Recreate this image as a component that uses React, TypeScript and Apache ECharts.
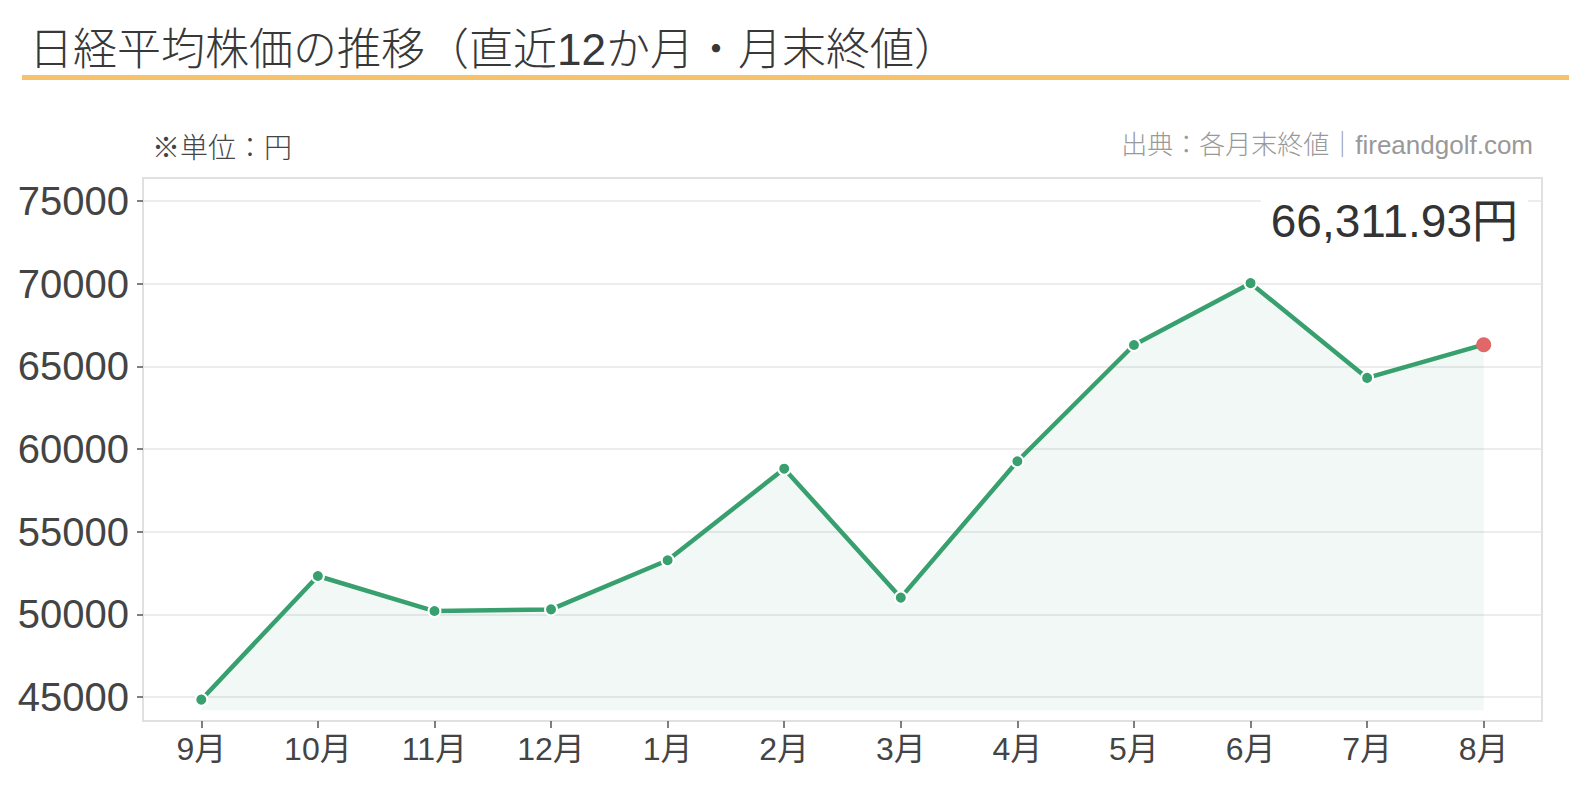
import * as echarts from "echarts";
import React, { useEffect, useRef } from "react";

// 日経平均 月末終値（直近12か月）
const months = ["9月", "10月", "11月", "12月", "1月", "2月", "3月", "4月", "5月", "6月", "7月", "8月"];
const closes = [44840, 52320, 50200, 50300, 53270, 58810, 51010, 59260, 66290, 70030, 64300, 66311.93];
const yTicks = [45000, 50000, 55000, 60000, 65000, 70000, 75000];

const FONT = '"Liberation Sans", "Noto Sans CJK JP", sans-serif';
const JP = '"Noto Sans CJK JP", sans-serif';
const GREEN = "#38a06e";
const RED = "#e06868";

const NikkeiChart: React.FC = () => {
    const chartRef = useRef<HTMLDivElement>(null);

    useEffect(() => {
        document.body.style.margin = "0";
        if (!chartRef.current) return;
        const chart = echarts.init(chartRef.current, undefined, { renderer: "svg" });

        const last = closes[closes.length - 1];
        const lastLabel =
            last.toLocaleString("ja-JP", { minimumFractionDigits: 2, maximumFractionDigits: 2 }) + "円";

        chart.setOption({
            animation: false,
            textStyle: { fontFamily: FONT },
            grid: { left: 143, right: 48, top: 178, bottom: 89, show: true, borderColor: "#e0e0e0", borderWidth: 2 },
            xAxis: {
                type: "category",
                data: months,
                boundaryGap: true,
                axisLine: { show: true, lineStyle: { color: "#e0e0e0", width: 2 } },
                axisTick: { show: true, alignWithLabel: true, length: 7, lineStyle: { color: "#555", width: 1.5 } },
                axisLabel: { color: "#444", fontSize: 32, fontFamily: FONT, margin: 12 },
            },
            yAxis: {
                type: "value",
                min: 43550,
                max: 76390,
                splitNumber: 5,
                axisLine: { show: true, lineStyle: { color: "#e0e0e0", width: 2 } },
                axisTick: { show: true, length: 6, customValues: yTicks, lineStyle: { color: "#555", width: 1.5 } },
                axisLabel: {
                    color: "#444",
                    fontSize: 40,
                    fontFamily: FONT,
                    margin: 14,
                    customValues: yTicks,
                    formatter: (v: number) => String(v),
                },
                splitLine: { lineStyle: { color: "#e6e6e6", width: 1.5 } },
            },
            series: [
                {
                    type: "line",
                    data: closes.map((v, i) =>
                        i === closes.length - 1
                            ? { value: v, symbolSize: 15, itemStyle: { color: RED, borderWidth: 0 } }
                            : v
                    ),
                    symbol: "circle",
                    symbolSize: 12,
                    showAllSymbol: true,
                    lineStyle: { color: GREEN, width: 4.5 },
                    itemStyle: { color: GREEN, borderColor: "#fff", borderWidth: 2 },
                    areaStyle: { color: "rgba(56,160,110,0.1)", origin: 44200 },
                    z: 3,
                },
            ],
            graphic: [
                {
                    type: "text",
                    left: 29,
                    top: 27,
                    style: {
                        text: "日経平均株価の推移（直近12か月・月末終値）",
                        font: `300 44px ${FONT}`,
                        fill: "#383838",
                    },
                },
                {
                    type: "rect",
                    shape: { x: 22, y: 75, width: 1547, height: 5 },
                    style: { fill: "#f6c26b" },
                },
                {
                    type: "text",
                    left: 152,
                    top: 132,
                    style: { text: "※単位：円", font: `300 28px ${JP}`, fill: "#444" },
                },
                {
                    type: "text",
                    right: 57,
                    top: 132,
                    style: { text: "出典：各月末終値｜fireandgolf.com", font: `300 26px ${FONT}`, fill: "#999" },
                },
                {
                    type: "text",
                    right: 62,
                    top: 196,
                    z: 10,
                    style: {
                        text: lastLabel,
                        font: `46px ${FONT}`,
                        fill: "#333",
                        backgroundColor: "#fff",
                        padding: [2, 10, 2, 10],
                    },
                },
            ],
        });

        const handleResize = () => chart.resize();
        window.addEventListener("resize", handleResize);
        return () => { chart.dispose(); window.removeEventListener("resize", handleResize); };
    }, []);

    return <div ref={chartRef} style={{ width: 1590, height: 810 }} />;
};

export default function App() {
    return <NikkeiChart />;
}
